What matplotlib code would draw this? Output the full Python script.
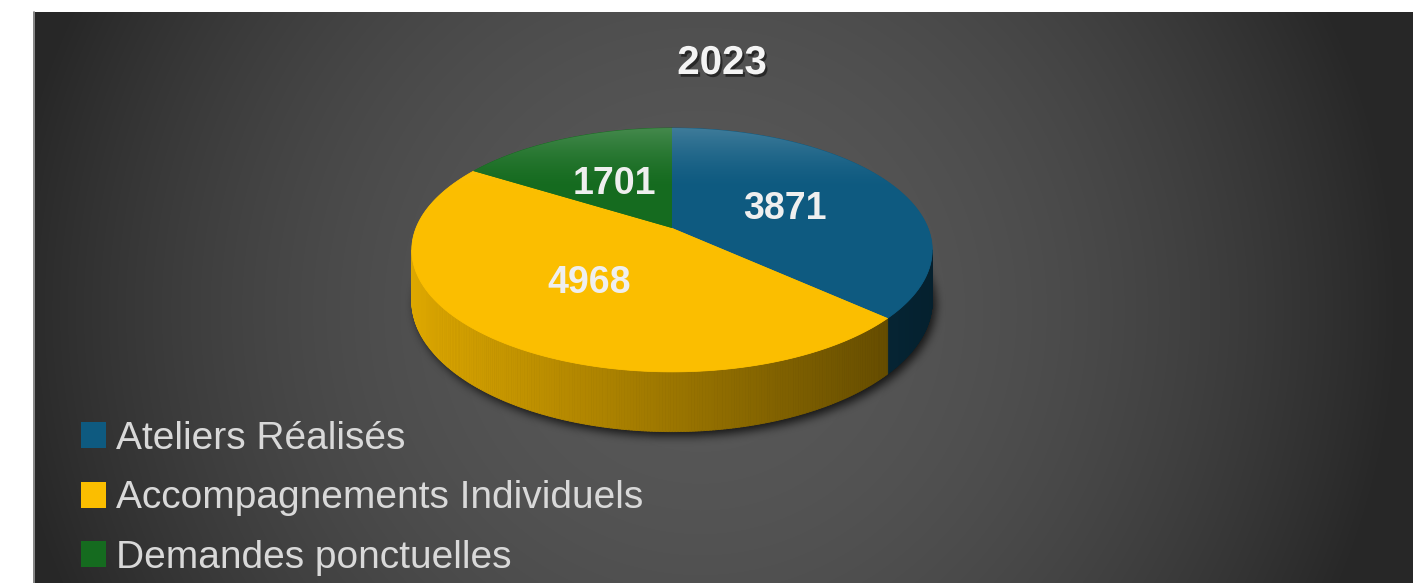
import numpy as np
import matplotlib
matplotlib.use("Agg")
import matplotlib.pyplot as plt
import matplotlib.patheffects as pe
from matplotlib.patches import Polygon, Patch
from matplotlib.collections import PolyCollection
from matplotlib.path import Path
from matplotlib.colors import to_rgb

# data
title = "2023"
categories = ["Ateliers Réalisés", "Accompagnements Individuels", "Demandes ponctuelles"]
values = [3871, 4968, 1701]
colors = ["#0E5A80", "#FBBE00", "#156B1F"]

plt.rcParams['font.family'] = ['Liberation Sans', 'DejaVu Sans']

W, H = 1428, 583
fig = plt.figure(figsize=(W / 100, H / 100), dpi=100, facecolor="white")
ax = fig.add_axes([0, 0, 1, 1])
ax.set_xlim(0, W)
ax.set_ylim(H, 0)
ax.set_axis_off()

# panel with radial gradient background
px0, px1, py0, py1 = 33, 1413, 12, H
gx, gy = np.meshgrid(np.arange(px0, px1), np.arange(py0, py1))
r = np.sqrt(((gx - 700) / 700.0) ** 2 + ((gy - 310) / 700.0) ** 2)
t = np.clip(1 - r ** 2, 0, 1)
edge, center = 0x27 / 255, 0x58 / 255
bg = edge + (center - edge) * t
ax.imshow(np.dstack([bg, bg, bg]), extent=(px0, px1, py1, py0), zorder=0,
          interpolation="bilinear", aspect="auto")
ax.plot([px0 + 0.5, px0 + 0.5], [py0, py1], color="#9A9A9A", lw=1.2, zorder=1)

# 3d pie projection
cx, cy = 672, 228
A, B, k, D = 118.0, 256.0, 0.18, 49.0


def proj(theta, depth=0.0, frac=1.0):
    u = frac * np.sin(theta)
    v = frac * np.cos(theta)
    s = 1.0 / (1.0 + k * v)
    return cx + B * u * s, cy - A * v * s + depth * s


total = float(sum(values))
bounds = np.concatenate([[0], np.cumsum(values)]) / total * 2 * np.pi
vis_lo, vis_hi = np.arccos(-k), 2 * np.pi - np.arccos(-k)

# soft shadow under the pie
sx0, sx1, sy0, sy1 = 360, 1000, 140, 490
sgx, sgy = np.meshgrid(np.arange(sx0, sx1), np.arange(sy0, sy1))
th = np.linspace(0, 2 * np.pi, 400)
bx, by = proj(th, D)
shadow_path = Path(np.column_stack([bx + 3, by + 4]))
mask = shadow_path.contains_points(np.column_stack([sgx.ravel(), sgy.ravel()])).reshape(sgx.shape).astype(float)
kern = np.ones(9) / 9.0
for _ in range(3):
    mask = np.apply_along_axis(lambda m: np.convolve(m, kern, mode="same"), 1, mask)
    mask = np.apply_along_axis(lambda m: np.convolve(m, kern, mode="same"), 0, mask)
shadow = np.zeros(mask.shape + (4,))
shadow[..., 3] = 0.75 * mask
ax.imshow(shadow, extent=(sx0, sx1, sy1, sy0), zorder=2, aspect="auto", interpolation="bilinear")

# sides with horizontal shading
x_left, x_right = cx - 260, cx + 260
for i, c in enumerate(colors):
    a0, a1 = max(bounds[i], vis_lo), min(bounds[i + 1], vis_hi)
    if a1 <= a0:
        continue
    ang = np.linspace(a0, a1, 240)
    tx, ty = proj(ang)
    dx, dy = proj(ang, D)
    quads, fcs = [], []
    base = np.array(to_rgb(c))
    for j in range(len(ang) - 1):
        quads.append([(tx[j], ty[j]), (tx[j + 1], ty[j + 1]), (dx[j + 1], dy[j + 1]), (dx[j], dy[j])])
        xm = 0.5 * (tx[j] + tx[j + 1])
        f = 0.88 - 0.52 * np.clip((xm - x_left) / (x_right - x_left), 0, 1)
        fcs.append(base * f)
    ax.add_collection(PolyCollection(quads, facecolors=fcs, edgecolors=fcs, linewidths=0.6, zorder=3))

# top faces with a light sheen toward the back
tgx, tgy = np.meshgrid(np.arange(x_left - 2, x_right + 2), np.arange(120, 380))
sheen = 0.2 * np.clip(1 - (tgy - 128) / 60.0, 0, 1) ** 1.5
for i, c in enumerate(colors):
    ang = np.linspace(bounds[i], bounds[i + 1], 200)
    ex, ey = proj(ang)
    pts = np.column_stack([np.concatenate([[cx], ex]), np.concatenate([[cy], ey])])
    poly = Polygon(pts, closed=True, facecolor=c, edgecolor=c, lw=0.5, zorder=4)
    ax.add_patch(poly)
    base = np.array(to_rgb(c))
    img = base[None, None, :] * (1 - sheen[..., None]) + sheen[..., None]
    im = ax.imshow(img, extent=(x_left - 2, x_right + 2, 380, 120), zorder=5,
                   aspect="auto", interpolation="bilinear")
    im.set_clip_path(poly)

# data labels
for i, v in enumerate(values):
    mid = 0.5 * (bounds[i] + bounds[i + 1])
    lx, ly = proj(mid, frac=0.5)
    ax.text(lx, ly + 14, str(v), ha="center", va="baseline", fontsize=27, fontweight="bold",
            color="#EFEFEF", zorder=6)

# title
ax.text(722, 74, title, ha="center", va="baseline", fontsize=29, fontweight="bold",
        color="#F4F4F4", zorder=6,
        path_effects=[pe.withSimplePatchShadow(offset=(1.5, -2), shadow_rgbFace="black", alpha=0.5)])

# legend
handles = [Patch(facecolor=c, edgecolor="none") for c in colors]
leg = ax.legend(handles, categories, loc="upper left", bbox_to_anchor=(81 / W, 1 - 421 / H),
                frameon=False, fontsize=28, labelcolor="#D9D9D9", handlelength=0.64,
                handleheight=0.64, handletextpad=0.25, labelspacing=0.6, borderpad=0,
                borderaxespad=0)
leg.set_zorder(7)

fig.savefig("out.png", dpi=100, facecolor="white")
